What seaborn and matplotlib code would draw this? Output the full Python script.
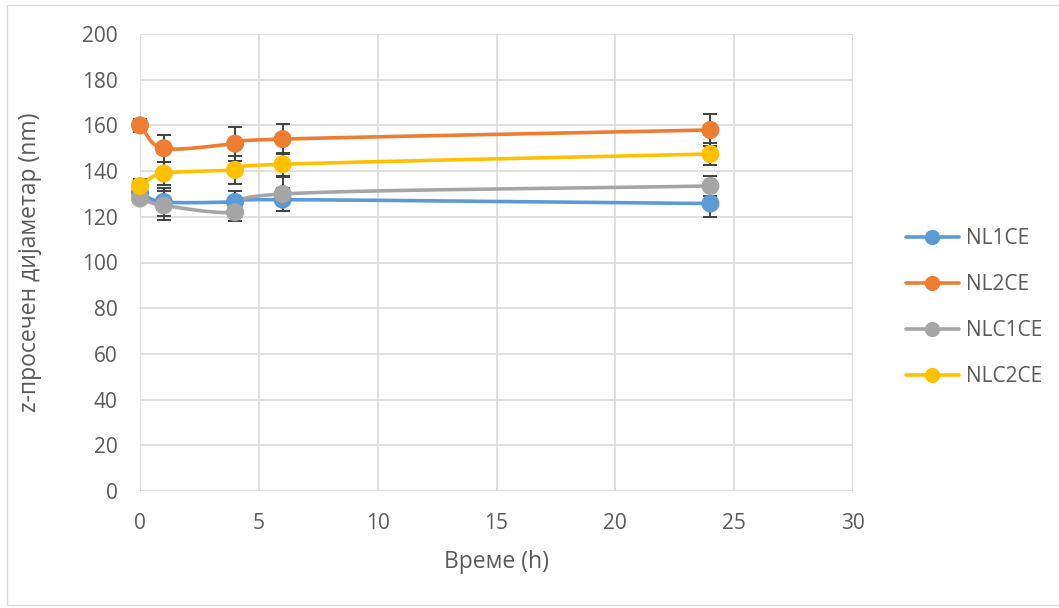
import numpy as np
import pandas as pd
import matplotlib
matplotlib.use("Agg")
import matplotlib.pyplot as plt
from matplotlib.lines import Line2D
from matplotlib.patches import Rectangle
import seaborn as sns

hours = [0, 1, 4, 6, 24]
series_names = ["NL1CE", "NL2CE", "NLC1CE", "NLC2CE"]
nl1ce = [130.5, 126.5, 126.5, 127.5, 125.8]
nl2ce = [160.0, 150.0, 152.0, 154.0, 158.0]
nlc1ce = [128.0, 125.0, 122.0, 130.0, 133.5]
nlc2ce = [133.5, 139.0, 140.5, 143.0, 147.5]
nl1ce_err = [2.0, 6.0, 5.0, 5.0, 6.0]
nl2ce_err = [3.0, 6.0, 7.5, 6.5, 7.0]
nlc1ce_err = [2.0, 6.5, 4.0, 7.5, 4.5]
nlc2ce_err = [3.0, 5.0, 6.0, 5.0, 5.0]
colors = ["#5B9BD5", "#ED7D31", "#A5A5A5", "#FFC000"]
y_ticks = [0, 20, 40, 60, 80, 100, 120, 140, 160, 180, 200]
x_ticks = [0, 5, 10, 15, 20, 25, 30]

values = [nl1ce, nl2ce, nlc1ce, nlc2ce]
errs = [nl1ce_err, nl2ce_err, nlc1ce_err, nlc2ce_err]

rows = []
for name, v, e in zip(series_names, values, errs):
    for h, y, er in zip(hours, v, e):
        rows.append({"h": h, "d": y, "err": er, "series": name})
df = pd.DataFrame(rows)

sns.set_theme(style="white")
plt.rcParams["font.family"] = ["Open Sans", "DejaVu Sans"]

fig = plt.figure(figsize=(10.59, 6.08), dpi=100)
ax = fig.add_axes([140/1059, 1-491/608, (853-140)/1059, (491-34)/608])

# outer chart border
fig.patches.append(Rectangle((7/1059, 3/608), 1060/1059, 600/608, transform=fig.transFigure,
                             fill=False, edgecolor="#d9d9d9", linewidth=1.0))

def smooth(x, y, n=40):
    # Excel-like smoothed line (Catmull-Rom through the points)
    x = np.asarray(x, float); y = np.asarray(y, float)
    px = np.concatenate([[2*x[0]-x[1]], x, [2*x[-1]-x[-2]]])
    py = np.concatenate([[2*y[0]-y[1]], y, [2*y[-1]-y[-2]]])
    xs, ys = [], []
    for i in range(1, len(px)-2):
        t = np.linspace(0, 1, n)
        t2, t3 = t*t, t*t*t
        def cr(p):
            return 0.5*((2*p[i]) + (-p[i-1]+p[i+1])*t + (2*p[i-1]-5*p[i]+4*p[i+1]-p[i+2])*t2
                        + (-p[i-1]+3*p[i]-3*p[i+1]+p[i+2])*t3)
        xs.append(cr(px)); ys.append(cr(py))
    return np.concatenate(xs), np.concatenate(ys)

for name, c in zip(series_names, colors):
    sub = df[df.series == name]
    eb = ax.errorbar(sub.h, sub.d, yerr=sub.err, fmt="none", ecolor="#404040",
                     elinewidth=1.4, capsize=5, capthick=1.4, zorder=2)
    for art in eb.lines[1] + eb.lines[2]:
        art.set_clip_on(False)

for name, c in zip(series_names, colors):
    sub = df[df.series == name]
    sx, sy = smooth(sub.h.values, sub.d.values)
    ax.plot(sx, sy, color=c, linewidth=2.6, zorder=3, solid_capstyle="round", clip_on=False)

sns.scatterplot(data=df, x="h", y="d", hue="series", palette=dict(zip(series_names, colors)),
                s=170, edgecolor="none", linewidth=0, ax=ax, zorder=4, legend=False,
                clip_on=False)

ax.set_xlim(0, 30)
ax.set_ylim(0, 200)
ax.set_xticks(x_ticks)
ax.set_yticks(y_ticks)
ax.grid(True, color="#d9d9d9", linewidth=1.2)
ax.set_axisbelow(True)
for s in ax.spines.values():
    s.set_visible(False)
ax.tick_params(axis="both", length=0, labelsize=15, labelcolor="#595959", pad=16)
ax.set_xlabel("Време (h)", fontsize=16.5, color="#595959", va="center")
ax.set_ylabel("z-просечен дијаметар (nm)", fontsize=16.5, color="#595959", va="center")
ax.xaxis.set_label_coords(0.5, -(562-491)/457)
ax.yaxis.set_label_coords(-(140-30)/713, 0.5)

handles = [Line2D([0], [0], color=c, linewidth=2.6, marker="o", markersize=11,
                  markeredgewidth=0) for c in colors]
leg = fig.legend(handles, series_names, loc="center left", bbox_to_anchor=(887/1059, 1-308/608),
                 frameon=False, fontsize=15, labelspacing=1.2, handlelength=2.55,
                 handletextpad=0.33)
for t in leg.get_texts():
    t.set_color("#595959")

fig.savefig("out.png", dpi=100)
